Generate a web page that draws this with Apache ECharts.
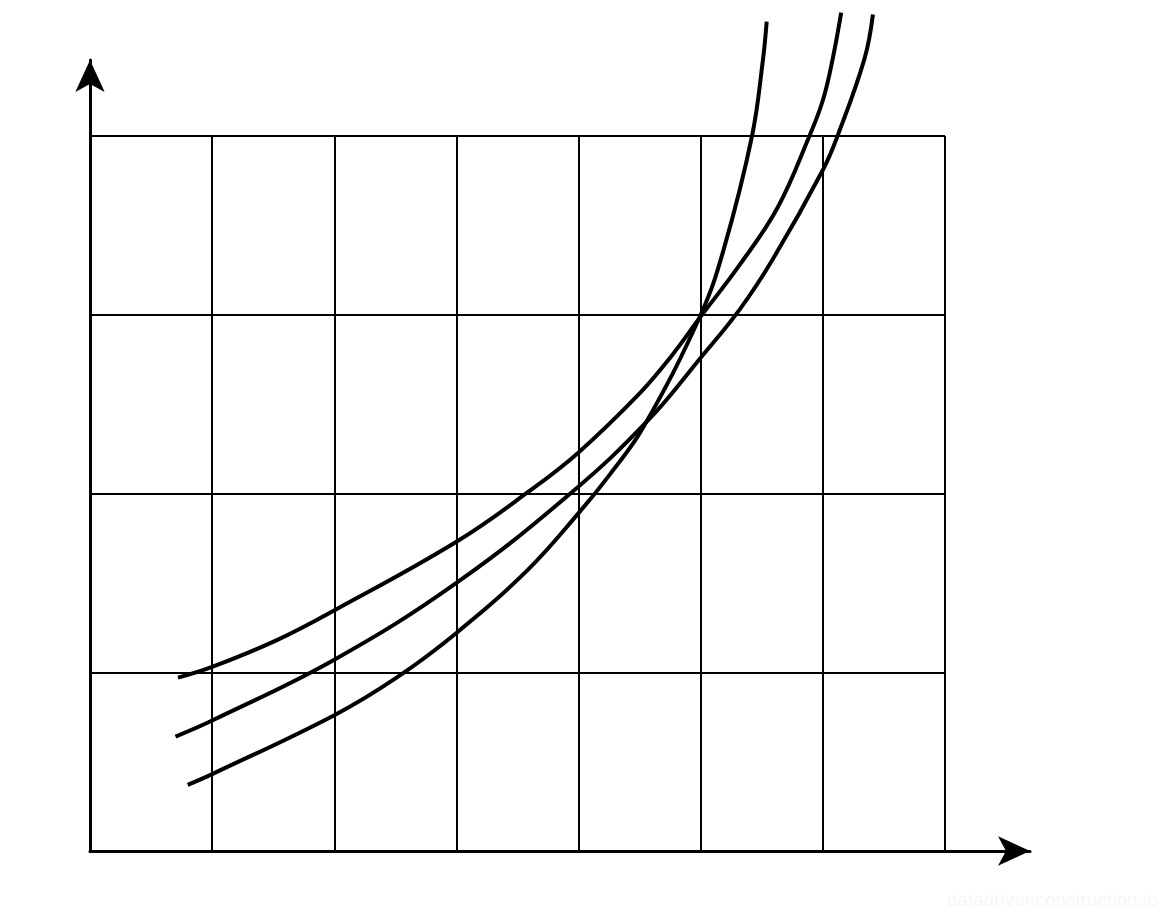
<!DOCTYPE html>
<html>
<head>
<meta charset="utf-8">
<script src="https://cdn.jsdelivr.net/npm/echarts@6/dist/echarts.min.js"></script>
<style>
html,body{margin:0;padding:0;background:#fff;}
#chart{width:1168px;height:912px;}
</style>
</head>
<body>
<div id="chart"></div>
<script>
// Curve A (top at left, ends in the middle at the top)
const curveA_x = [0.72, 1.00, 1.53, 2.01, 3.00, 3.59, 4.00, 4.50, 4.75, 5.00, 5.32, 5.63, 5.89, 6.00, 6.08, 6.15];
const curveA_y = [0.97, 1.03, 1.18, 1.35, 1.73, 2.01, 2.23, 2.56, 2.76, 2.99, 3.28, 3.60, 4.00, 4.20, 4.43, 4.69];
// Curve B (middle at left, right-most at the top)
const curveB_x = [0.70, 1.00, 2.00, 3.00, 3.95, 4.57, 5.00, 5.32, 5.59, 6.00, 6.12, 6.34, 6.41];
const curveB_y = [0.64, 0.73, 1.07, 1.50, 2.01, 2.41, 2.76, 3.03, 3.31, 3.81, 4.00, 4.43, 4.68];
// Curve C (lowest at left, steepest, left-most at the top)
const curveC_x = [0.80, 1.00, 2.00, 2.51, 3.00, 3.58, 4.00, 4.26, 4.53, 5.00, 5.19, 5.42, 5.51, 5.54];
const curveC_y = [0.37, 0.43, 0.76, 0.97, 1.22, 1.57, 1.89, 2.11, 2.37, 3.00, 3.37, 4.00, 4.43, 4.64];
// Grid extents (cells)
const xCells = 7;
const yCells = 4;

function pairs(xs, ys) { return xs.map((x, i) => [x, ys[i]]); }

const chart = echarts.init(document.getElementById('chart'), null, {renderer: 'canvas'});
const curveStyle = {color: '#000', width: 4};
function curve(name, xs, ys) {
  return {
    name: name, type: 'line', xAxisIndex: 0, yAxisIndex: 0,
    data: pairs(xs, ys), smooth: 0.4, showSymbol: false, clip: false,
    lineStyle: curveStyle, itemStyle: {color: '#000'}
  };
}
chart.setOption({
  animation: false,
  backgroundColor: '#fff',
  grid: [
    {left: 90, top: 136, right: 223, bottom: 61},
    {left: 90, top: 60, right: 138, bottom: 61}
  ],
  xAxis: [
    {type: 'value', gridIndex: 0, min: 0, max: xCells, interval: 1,
     axisLine: {show: false}, axisTick: {show: false}, axisLabel: {show: false},
     splitLine: {show: true, lineStyle: {color: '#000', width: 2}}},
    {type: 'value', gridIndex: 1, min: 0, max: 1,
     axisLine: {show: true, symbol: ['none', 'arrow'], symbolSize: [22, 32], lineStyle: {color: '#000', width: 3}},
     axisTick: {show: false}, axisLabel: {show: false}, splitLine: {show: false}}
  ],
  yAxis: [
    {type: 'value', gridIndex: 0, min: 0, max: yCells, interval: 1,
     axisLine: {show: false}, axisTick: {show: false}, axisLabel: {show: false},
     splitLine: {show: true, lineStyle: {color: '#000', width: 2}}},
    {type: 'value', gridIndex: 1, min: 0, max: 1,
     axisLine: {show: true, symbol: ['none', 'arrow'], symbolSize: [22, 32], lineStyle: {color: '#000', width: 3}},
     axisTick: {show: false}, axisLabel: {show: false}, splitLine: {show: false}}
  ],
  graphic: [
    {type: 'text', right: 10, bottom: 2,
     style: {text: 'datadrivenconstruction.io', fill: '#f6f6f6', font: '19px "Liberation Sans", Arial, sans-serif'}}
  ],
  series: [
    curve('A', curveA_x, curveA_y),
    curve('B', curveB_x, curveB_y),
    curve('C', curveC_x, curveC_y)
  ]
});
</script>
</body>
</html>
